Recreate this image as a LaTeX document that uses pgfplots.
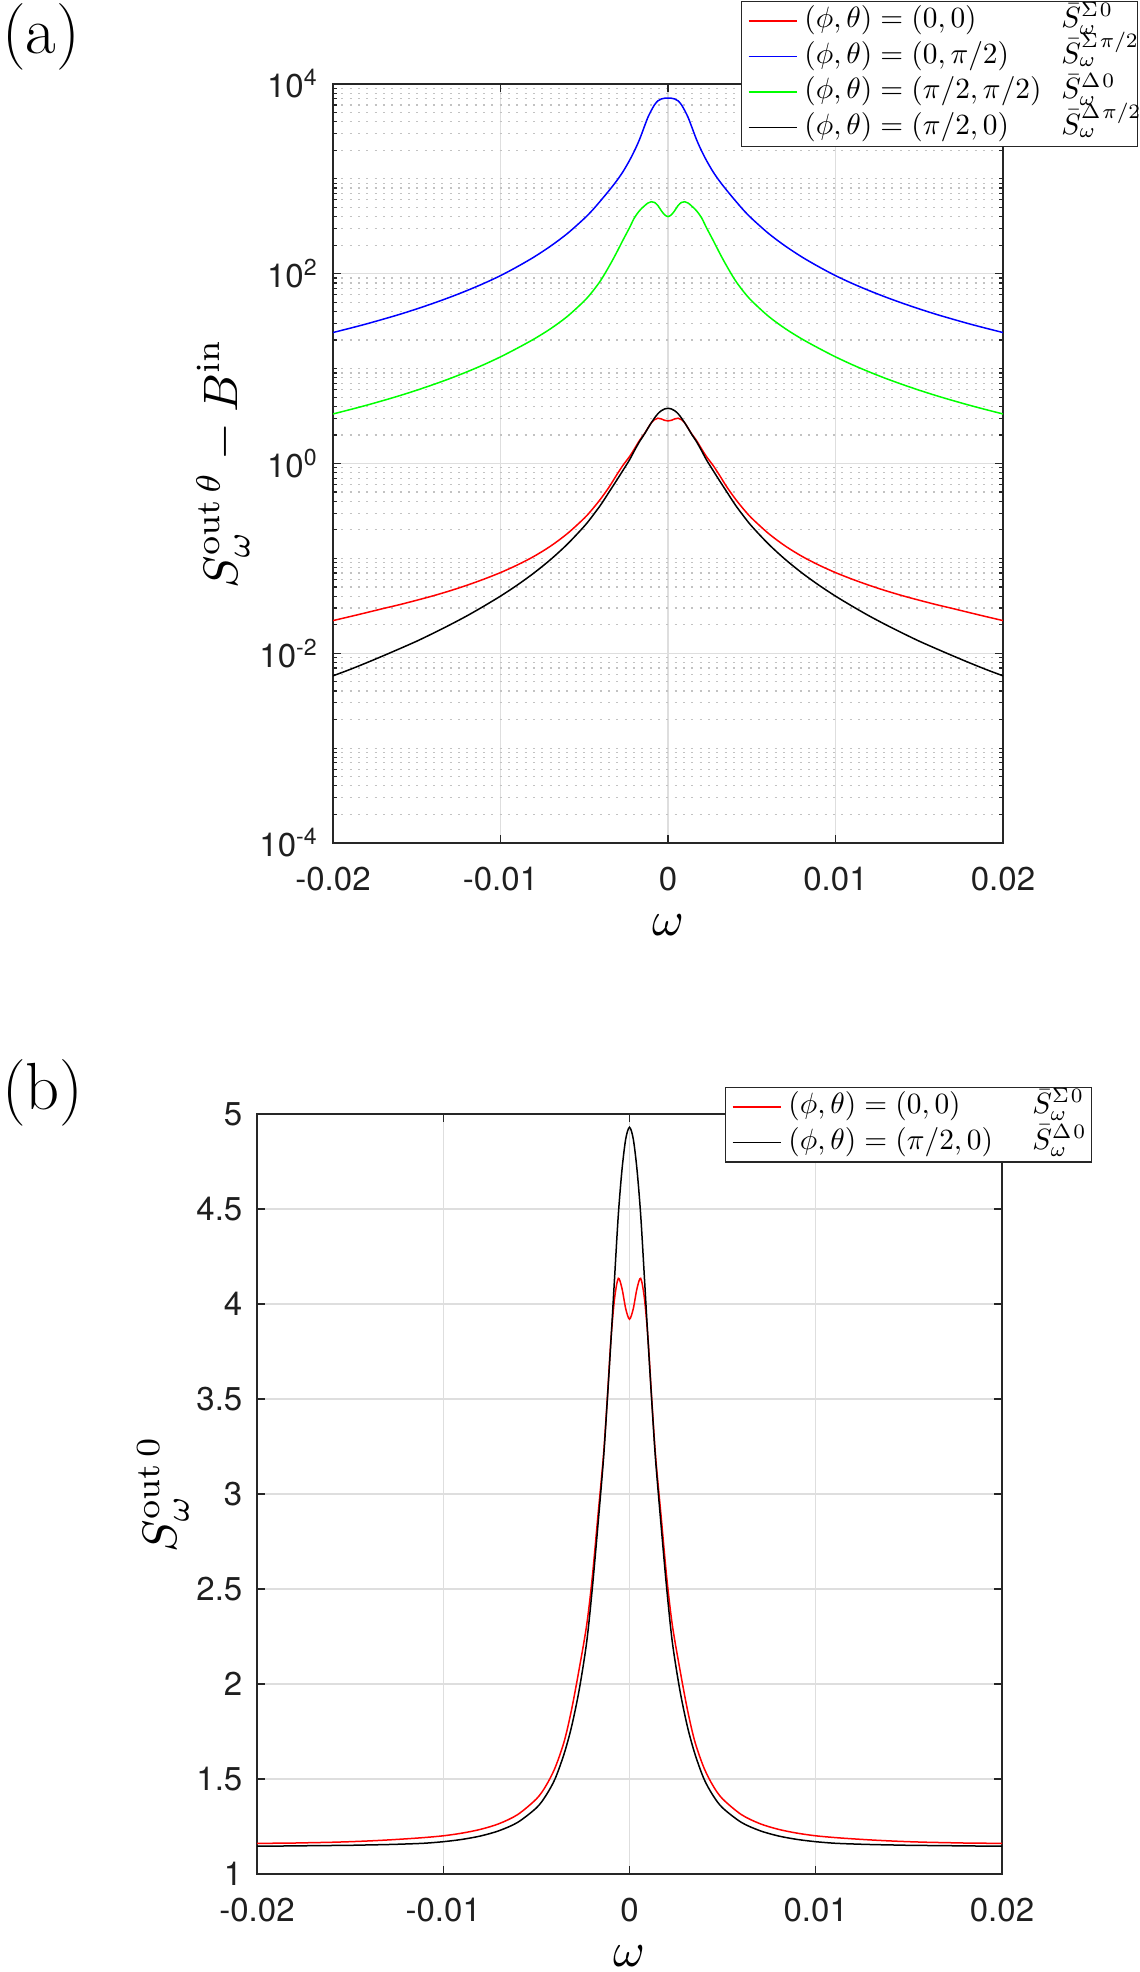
\documentclass[border=0pt]{standalone}
\usepackage{pgfplots}
\usepackage{pgfplotstable}
\pgfplotsset{compat=1.18}
\usepackage{fontspec}
\newfontfamily\helv{TeX Gyre Heros}

% legend entry: fixed-width first column, then the second symbol
\newcommand\lgd[4]{\makebox[#1][l]{\scalebox{0.88}{$#2$}}\makebox[#3][l]{\scalebox{0.88}{$#4$}}}

% spectra above the input background (panel a)
\pgfplotstableread{
w red blue green black
-0.020 0.0221 24 3.33 0.00578
-0.019 0.0243 26.6 3.69 0.00673
-0.018 0.0268 29.6 4.11 0.00793
-0.017 0.0296 33.2 4.61 0.0094
-0.016 0.0326 37.4 5.20 0.0112
-0.015 0.0362 42.6 5.92 0.0134
-0.014 0.0404 48.9 6.80 0.0163
-0.013 0.0456 56.7 7.88 0.0200
-0.012 0.0521 66.5 9.25 0.0248
-0.011 0.0603 79 11.0 0.0313
-0.010 0.0708 95.5 13.3 0.0400
-0.009 0.0851 118.5 16.4 0.0523
-0.008 0.105 150 20.5 0.0702
-0.007 0.135 196 26.4 0.0975
-0.006 0.183 266 35.6 0.1416
-0.005 0.265 382 51.7 0.218
-0.0045 0.332 470 65.2 0.281
-0.004 0.428 595 86 0.370
-0.0035 0.57 760 121 0.506
-0.0031 0.74 935 163 0.65
-0.0027 0.95 1180 224 0.84
-0.0023 1.18 1560 305 1.09
-0.0020 1.43 1980 390 1.37
-0.0017 1.75 2600 462 1.70
-0.0014 2.07 3600 520 2.05
-0.0012 2.36 4450 556 2.35
-0.0010 2.68 5250 574 2.68
-0.0008 2.90 6050 564 3.02
-0.0006 3.00 6650 522 3.35
-0.0004 2.95 6950 462 3.60
-0.0002 2.85 7080 418 3.76
0 2.81 7110 400 3.82
0.0002 2.85 7080 418 3.76
0.0004 2.95 6950 462 3.60
0.0006 3.00 6650 522 3.35
0.0008 2.90 6050 564 3.02
0.0010 2.68 5250 574 2.68
0.0012 2.36 4450 556 2.35
0.0014 2.07 3600 520 2.05
0.0017 1.75 2600 462 1.70
0.0020 1.43 1980 390 1.37
0.0023 1.18 1560 305 1.09
0.0027 0.95 1180 224 0.84
0.0031 0.74 935 163 0.65
0.0035 0.57 760 121 0.506
0.004 0.428 595 86 0.370
0.0045 0.332 470 65.2 0.281
0.005 0.265 382 51.7 0.218
0.006 0.183 266 35.6 0.1416
0.007 0.135 196 26.4 0.0975
0.008 0.105 150 20.5 0.0702
0.009 0.0851 118.5 16.4 0.0523
0.010 0.0708 95.5 13.3 0.0400
0.011 0.0603 79 11.0 0.0313
0.012 0.0521 66.5 9.25 0.0248
0.013 0.0456 56.7 7.88 0.0200
0.014 0.0404 48.9 6.80 0.0163
0.015 0.0362 42.6 5.92 0.0134
0.016 0.0326 37.4 5.20 0.0112
0.017 0.0296 33.2 4.61 0.0094
0.018 0.0268 29.6 4.11 0.00793
0.019 0.0243 26.6 3.69 0.00673
0.020 0.0221 24 3.33 0.00578
}\dataA

% full output spectra for theta = 0 (panel b)
\pgfplotstableread{
w red black
-0.020 1.161 1.147
-0.019 1.162 1.147
-0.018 1.163 1.148
-0.017 1.165 1.149
-0.016 1.167 1.150
-0.015 1.170 1.151
-0.014 1.174 1.153
-0.013 1.179 1.155
-0.012 1.185 1.158
-0.011 1.192 1.162
-0.010 1.201 1.170
-0.009 1.215 1.182
-0.008 1.235 1.200
-0.007 1.265 1.228
-0.006 1.313 1.272
-0.005 1.395 1.348
-0.0045 1.462 1.411
-0.004 1.558 1.500
-0.0035 1.700 1.636
-0.0031 1.870 1.780
-0.0027 2.080 1.970
-0.0023 2.310 2.220
-0.0020 2.560 2.500
-0.0017 2.880 2.830
-0.0014 3.200 3.180
-0.0012 3.490 3.480
-0.0010 3.810 3.800
-0.0008 4.030 4.140
-0.0006 4.135 4.470
-0.0004 4.080 4.710
-0.0002 3.974 4.870
0 3.920 4.930
0.0002 3.974 4.870
0.0004 4.080 4.710
0.0006 4.135 4.470
0.0008 4.030 4.140
0.0010 3.810 3.800
0.0012 3.490 3.480
0.0014 3.200 3.180
0.0017 2.880 2.830
0.0020 2.560 2.500
0.0023 2.310 2.220
0.0027 2.080 1.970
0.0031 1.870 1.780
0.0035 1.700 1.636
0.004 1.558 1.500
0.0045 1.462 1.411
0.005 1.395 1.348
0.006 1.313 1.272
0.007 1.265 1.228
0.008 1.235 1.200
0.009 1.215 1.182
0.010 1.201 1.170
0.011 1.192 1.162
0.012 1.185 1.158
0.013 1.179 1.155
0.014 1.174 1.153
0.015 1.170 1.151
0.016 1.167 1.150
0.017 1.165 1.149
0.018 1.163 1.148
0.019 1.162 1.147
0.020 1.161 1.147
}\dataB

\pgfplotsset{
  mlab/.style={
    scale only axis,
    xmin=-0.02, xmax=0.02,
    xtick={-0.02,-0.01,0,0.01,0.02},
    xticklabels={-0.02,-0.01,0,0.01,0.02},
    scaled x ticks=false,
    scaled y ticks=false,
    tick align=inside,
    tick pos=both,
    major tick length=2.4pt,
    minor tick length=1.3pt,
    axis line style={black!85, line width=0.35pt},
    tick style={black!85, line width=0.35pt},
    ticklabel style={font=\helv\fontsize{9.9}{11.9}\selectfont, text=black!88},
    xticklabel style={inner sep=0pt, anchor=north, yshift=-6.9pt},
    yticklabel style={inner sep=0pt, anchor=east, xshift=-4.2pt},
    major grid style={black!13, line width=0.35pt},
    minor grid style={black!24, line width=0.35pt, dash pattern=on 0.55pt off 1.95pt},
    xmajorgrids, ymajorgrids,
    every axis x label/.style={at={(axis description cs:0.5,-0.122)}, anchor=base},
    legend cell align=left,
    legend image code/.code={\draw[##1] (0pt,0pt) -- (14.4pt,0pt);},
    legend style={draw=black!85, line width=0.35pt, fill=white,
      inner xsep=1.8pt, inner ysep=0.5pt,
      /tikz/column sep=2.1pt, /tikz/row sep=0pt,
      nodes={inner sep=0pt, text height=7.3pt, text depth=3.35pt}},
  },
  curve/.style={line width=0.45pt, smooth},
}

\begin{document}
\begin{tikzpicture}
\useasboundingbox (0,0) rectangle (342pt,591.6pt);

\node[anchor=base west, inner sep=0pt, font=\fontsize{20}{24}\selectfont] at (0.4pt,575.6pt) {(a)};
\node[anchor=base west, inner sep=0pt, font=\fontsize{20}{24}\selectfont] at (0.4pt,258.6pt) {(b)};

\begin{axis}[mlab,
  at={(99.9pt,338.7pt)}, anchor=south west,
  width=201pt, height=227.7pt,
  ymode=log, ymin=1e-4, ymax=1e4,
  ytick={1e-4,1e-2,1,1e2,1e4},
  yticklabels={10\textsuperscript{-4},10\textsuperscript{-2},10\textsuperscript{0},10\textsuperscript{2},10\textsuperscript{4}},
  minor ytick={2e-4,3e-4,4e-4,5e-4,6e-4,7e-4,8e-4,9e-4,1e-3,2e-3,3e-3,4e-3,5e-3,6e-3,7e-3,8e-3,9e-3,
    2e-2,3e-2,4e-2,5e-2,6e-2,7e-2,8e-2,9e-2,1e-1,2e-1,3e-1,4e-1,5e-1,6e-1,7e-1,8e-1,9e-1,
    2,3,4,5,6,7,8,9,10,20,30,40,50,60,70,80,90,200,300,400,500,600,700,800,900,
    1000,2000,3000,4000,5000,6000,7000,8000,9000},
  yminorgrids,
  xlabel={\scalebox{1.45}{$\omega$}},
  ylabel={\scalebox{1.45}{$S_\omega^{\mathrm{out}\,\theta}-B^{\mathrm{in}}$}},
  every axis y label/.style={at={(axis description cs:-0.1642,0.5)}, rotate=90, anchor=center},
  legend style={at={(axis description cs:1.2015,1.1094)}, anchor=north east},
]
\addplot[curve, red] table[x=w, y=red] {\dataA};
\addlegendentry{\lgd{77.1pt}{(\phi,\theta)=(0,0)}{21pt}{\bar{S}_\omega^{\Sigma\mkern1.5mu0}}}
\addplot[curve, blue] table[x=w, y=blue] {\dataA};
\addlegendentry{\lgd{77.1pt}{(\phi,\theta)=(0,\pi/2)}{21pt}{\bar{S}_\omega^{\Sigma\mkern1.5mu\pi/2}}}
\addplot[curve, green] table[x=w, y=green] {\dataA};
\addlegendentry{\lgd{77.1pt}{(\phi,\theta)=(\pi/2,\pi/2)}{21pt}{\bar{S}_\omega^{\Delta\mkern1.5mu0}}}
\addplot[curve, black] table[x=w, y=black] {\dataA};
\addlegendentry{\lgd{77.1pt}{(\phi,\theta)=(\pi/2,0)}{21pt}{\bar{S}_\omega^{\Delta\mkern1.5mu\pi/2}}}
\end{axis}

\begin{axis}[mlab,
  at={(77.1pt,29.4pt)}, anchor=south west,
  width=223.5pt, height=228pt,
  ymin=1, ymax=5,
  ytick={1,1.5,2,2.5,3,3.5,4,4.5,5},
  yticklabels={1,1.5,2,2.5,3,3.5,4,4.5,5},
  xlabel={\scalebox{1.45}{$\omega$}},
  ylabel={\scalebox{1.45}{$S_\omega^{\mathrm{out}\,0}$}},
  every axis y label/.style={at={(axis description cs:-0.1262,0.5)}, rotate=90, anchor=center},
  legend style={at={(axis description cs:1.1208,1.0355)}, anchor=north east},
]
\addplot[curve, red] table[x=w, y=red] {\dataB};
\addlegendentry{\lgd{73.2pt}{(\phi,\theta)=(0,0)}{15.9pt}{\bar{S}_\omega^{\Sigma\mkern1.5mu0}}}
\addplot[curve, black] table[x=w, y=black] {\dataB};
\addlegendentry{\lgd{73.2pt}{(\phi,\theta)=(\pi/2,0)}{15.9pt}{\bar{S}_\omega^{\Delta\mkern1.5mu0}}}
\end{axis}
\end{tikzpicture}
\end{document}
